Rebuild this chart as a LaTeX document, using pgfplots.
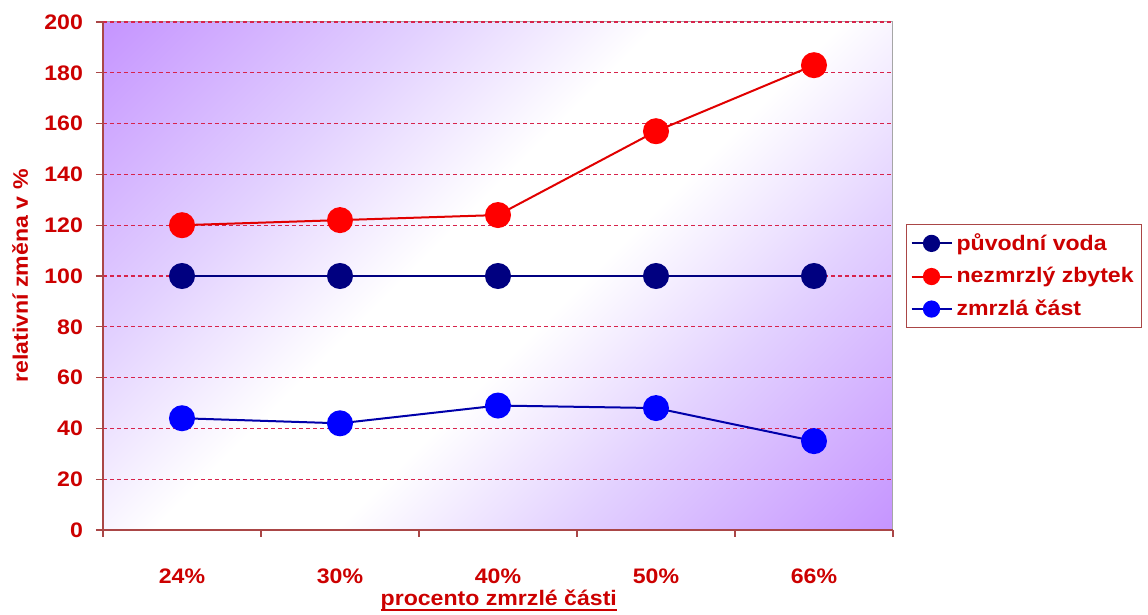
\documentclass[border=0pt]{standalone}
\usepackage{pgfplots}
\pgfplotsset{compat=1.18}
\usepackage{fontspec}
\setmainfont{Liberation Sans}[FakeStretch=1.1]
\definecolor{txtred}{RGB}{204,0,0}
\definecolor{bgpurp}{RGB}{198,150,255}
\definecolor{bgmid}{RGB}{226,208,255}
\definecolor{gridc}{RGB}{215,35,75}
\definecolor{axc}{RGB}{170,70,70}
\definecolor{navyc}{RGB}{0,0,128}
\definecolor{bluel}{RGB}{0,0,170}
\definecolor{bluem}{RGB}{0,0,255}
\definecolor{redl}{RGB}{225,0,0}
\definecolor{redm}{RGB}{255,0,0}
\pgfdeclarehorizontalshading{bgshade}{100bp}{color(0bp)=(bgpurp); color(15bp)=(bgpurp); color(32bp)=(bgmid); color(45bp)=(white); color(55bp)=(white); color(68bp)=(bgmid); color(85bp)=(bgpurp); color(100bp)=(bgpurp)}
\newcommand\ulbox[1]{\setbox0\hbox{#1}\rlap{\rule[-2.6pt]{\wd0}{0.9pt}}\box0}
\newcommand\chfont{\bfseries\fontsize{10.5}{12}\selectfont}
\begin{document}
\begin{tikzpicture}
\path[use as bounding box] (0,0) rectangle (574pt,307.5pt);
\begin{axis}[
  at={(51.5pt,42.5pt)}, anchor=south west,
  scale only axis, width=395pt, height=254pt,
  xmin=-0.5, xmax=4.5, ymin=0, ymax=200,
  axis lines=left,
  axis line style={-, axc, line width=0.6pt},
  axis background/.style={shade, shading=bgshade, shading angle=-45, draw=gray!70, line width=0.5pt},
  xtick={-0.5,0.5,...,4.5},
  x tick label as interval,
  xticklabels={24\%,30\%,40\%,50\%,66\%},
  ytick={0,20,...,200},
  /pgf/number format/assume math mode=true,
  tick align=outside,
  major tick length=3.5pt,
  tick style={axc, line width=0.6pt},
  ymajorgrids,
  grid style={gridc, dash pattern=on 2pt off 1.5pt, line width=0.6pt},
  ticklabel style={font=\chfont, text=txtred},
  yticklabel style={xshift=-3pt},
  xticklabel style={yshift=-12.5pt},
  xlabel={\ulbox{procento zmrzlé části}},
  ylabel={relativní změna v \%},
  every axis x label/.style={at={(axis description cs:0.501,-0.138)}, anchor=center, font=\chfont, text=txtred},
  every axis y label/.style={at={(axis description cs:-0.105,0.5)}, rotate=90, anchor=center, font=\chfont, text=txtred},
  legend style={at={(axis description cs:1.0165,0.6024)}, anchor=north west, draw=axc, line width=0.5pt, fill=white, font=\chfont, text=txtred, inner xsep=2pt, inner ysep=2.5pt, row sep=3pt},
  legend cell align=left,
  legend image code/.code={\draw[mark repeat=2,mark phase=2,#1,mark size=3.8pt] plot coordinates {(0pt,0pt)(10pt,0pt)(20pt,0pt)};},
]
\addplot[navyc, line width=1pt, mark=*, mark size=6pt, mark options={solid, fill=navyc, draw=navyc}] coordinates {(0,100)(1,100)(2,100)(3,100)(4,100)};
\addlegendentry{původní voda}
\addplot[redl, line width=1pt, mark=*, mark size=6pt, mark options={solid, fill=redm, draw=redm}] coordinates {(0,120)(1,122)(2,124)(3,157)(4,183)};
\addlegendentry{nezmrzlý zbytek}
\addplot[bluel, line width=1pt, mark=*, mark size=6pt, mark options={solid, fill=bluem, draw=bluem}] coordinates {(0,44)(1,42)(2,49)(3,48)(4,35)};
\addlegendentry{zmrzlá část}
\end{axis}
\end{tikzpicture}
\end{document}
